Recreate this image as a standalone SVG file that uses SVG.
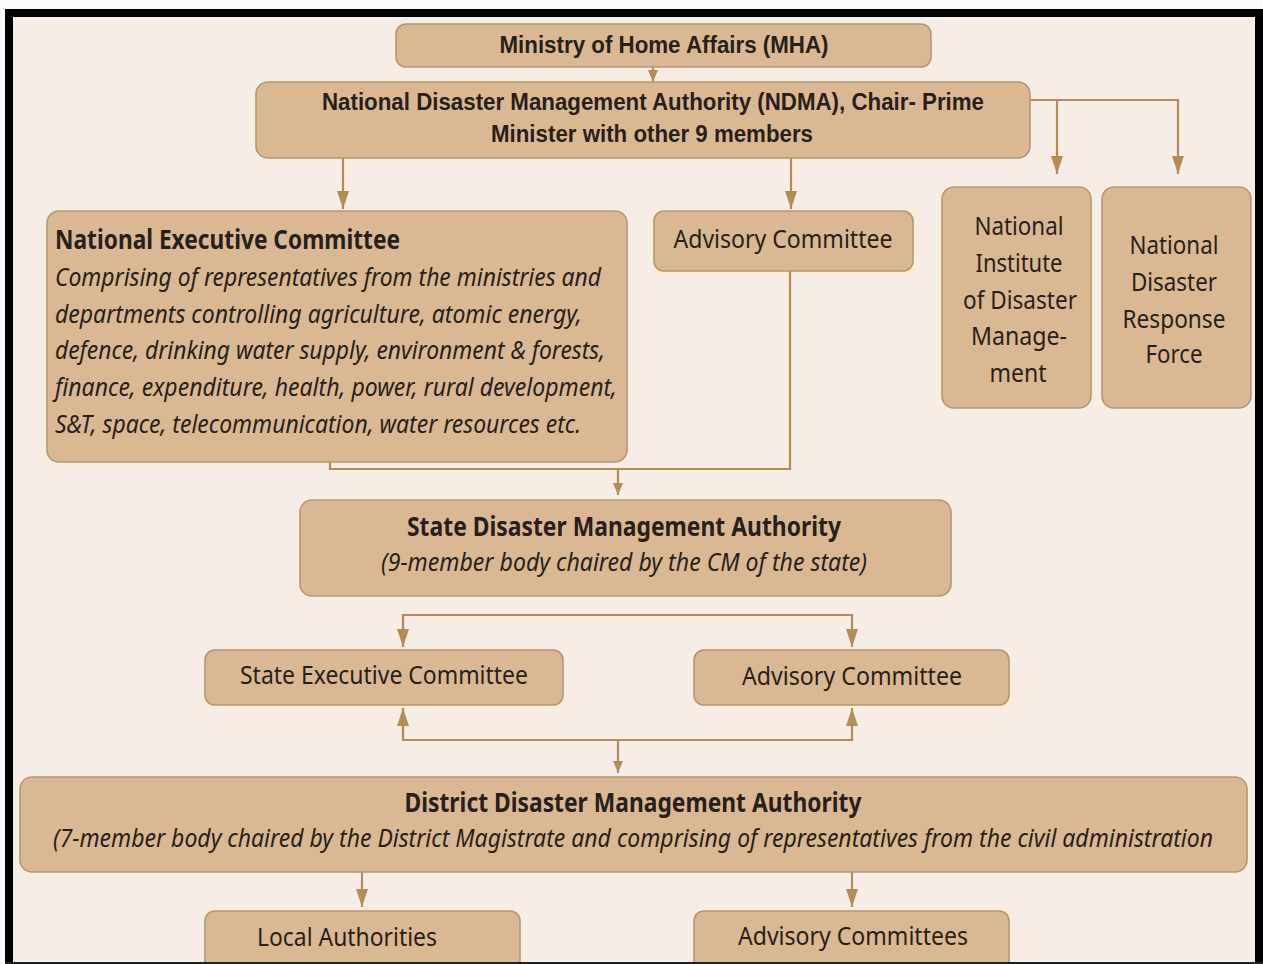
<svg xmlns="http://www.w3.org/2000/svg" width="1263" height="964" viewBox="0 0 1263 964">
<style>
.box{fill:#d9b893;stroke:#b8966c;stroke-width:1.6}
.ln{fill:none;stroke:#b38d55;stroke-width:2.2}
.t{font-family:"Noto Sans","Open Sans",sans-serif;fill:#2a1f18;font-size:26px}
.tb{font-family:"Noto Sans","Open Sans",sans-serif;fill:#2a1f18;font-size:26px;font-weight:bold}
.ti{font-family:"Noto Sans","Open Sans",sans-serif;fill:#2a1f18;font-size:26px;font-style:italic}
.ar{font-family:"Liberation Sans",Arial,sans-serif;fill:#2a1f18;font-size:23px;font-weight:bold}
.c{text-anchor:middle}
</style>
<defs>
<marker id="ah" viewBox="0 0 18 12" refX="18" refY="6" markerWidth="18" markerHeight="12" orient="auto" markerUnits="userSpaceOnUse">
<path d="M0,0 L18,6 L0,12 z" fill="#b38d55"/>
</marker>
<marker id="as" viewBox="0 0 12 10" refX="12" refY="5" markerWidth="12" markerHeight="10" orient="auto" markerUnits="userSpaceOnUse">
<path d="M0,0 L12,5 L0,10 z" fill="#b38d55"/>
</marker>
</defs>
<rect x="0" y="0" width="1263" height="964" fill="#fbfbfb"/>
<rect x="5" y="9" width="1258" height="955" fill="#000"/>
<rect x="13" y="17" width="1242" height="945" fill="#f6ede6"/>

<g id="connectors">
<line class="ln" x1="653" y1="67" x2="653" y2="82" marker-end="url(#as)"/>
<polyline class="ln" points="1030,100 1178,100 1178,174" marker-end="url(#ah)"/>
<line class="ln" x1="1057" y1="100" x2="1057" y2="174" marker-end="url(#ah)"/>
<line class="ln" x1="343" y1="158" x2="343" y2="209" marker-end="url(#ah)"/>
<line class="ln" x1="791" y1="158" x2="791" y2="209" marker-end="url(#ah)"/>
<polyline class="ln" points="330,462 330,469 790,469 790,271"/>
<line class="ln" x1="618" y1="469" x2="618" y2="495" marker-end="url(#as)"/>
<polyline class="ln" points="403,647 403,615 852,615 852,647" marker-end="url(#ah)"/>
<line class="ln" x1="403" y1="615" x2="403" y2="647" marker-end="url(#ah)"/>
<polyline class="ln" points="403,708 403,740 852,740 852,708" marker-end="url(#ah)"/>
<line class="ln" x1="403" y1="740" x2="403" y2="708" marker-end="url(#ah)"/>
<line class="ln" x1="618" y1="740" x2="618" y2="773" marker-end="url(#as)"/>
<line class="ln" x1="362" y1="872" x2="362" y2="907" marker-end="url(#ah)"/>
<line class="ln" x1="852" y1="872" x2="852" y2="907" marker-end="url(#ah)"/>
</g>

<g id="mha">
<rect class="box" x="396" y="24" width="535" height="43" rx="10"/>
<text class="ar c" x="664" y="53" textLength="329" lengthAdjust="spacingAndGlyphs">Ministry of Home Affairs (MHA)</text>
</g>
<g id="ndma">
<rect class="box" x="256" y="82" width="774" height="76" rx="12"/>
<text class="ar c" x="653" y="110" textLength="662" lengthAdjust="spacingAndGlyphs">National Disaster Management Authority (NDMA), Chair- Prime</text>
<text class="ar c" x="652" y="142" textLength="322" lengthAdjust="spacingAndGlyphs">Minister with other 9 members</text>
</g>
<g id="nec">
<rect class="box" x="47" y="211" width="580" height="251" rx="12"/>
<text class="tb" x="55" y="249" textLength="345" lengthAdjust="spacingAndGlyphs">National Executive Committee</text>
<text class="ti" x="55" y="286" textLength="546" lengthAdjust="spacingAndGlyphs">Comprising of representatives from the ministries and</text>
<text class="ti" x="55" y="323" textLength="527" lengthAdjust="spacingAndGlyphs">departments controlling agriculture, atomic energy,</text>
<text class="ti" x="55" y="359" textLength="550" lengthAdjust="spacingAndGlyphs">defence, drinking water supply, environment &amp; forests,</text>
<text class="ti" x="55" y="396" textLength="562" lengthAdjust="spacingAndGlyphs">finance, expenditure, health, power, rural development,</text>
<text class="ti" x="55" y="433" textLength="526" lengthAdjust="spacingAndGlyphs">S&amp;T, space, telecommunication, water resources etc.</text>
</g>
<g id="advisory-national">
<rect class="box" x="654" y="211" width="259" height="60" rx="10"/>
<text class="t c" x="783" y="248" textLength="219" lengthAdjust="spacingAndGlyphs">Advisory Committee</text>
</g>
<g id="nidm">
<rect class="box" x="942" y="187" width="149" height="221" rx="12"/>
<text class="t c" x="1019" y="235" textLength="89" lengthAdjust="spacingAndGlyphs">National</text>
<text class="t c" x="1019" y="272" textLength="87" lengthAdjust="spacingAndGlyphs">Institute</text>
<text class="t c" x="1020" y="309" textLength="114" lengthAdjust="spacingAndGlyphs">of Disaster</text>
<text class="t c" x="1019" y="345" textLength="96" lengthAdjust="spacingAndGlyphs">Manage-</text>
<text class="t c" x="1018" y="382" textLength="57" lengthAdjust="spacingAndGlyphs">ment</text>
</g>
<g id="ndrf">
<rect class="box" x="1102" y="187" width="149" height="221" rx="12"/>
<text class="t c" x="1174" y="254" textLength="89" lengthAdjust="spacingAndGlyphs">National</text>
<text class="t c" x="1174" y="291" textLength="86" lengthAdjust="spacingAndGlyphs">Disaster</text>
<text class="t c" x="1174" y="328" textLength="103" lengthAdjust="spacingAndGlyphs">Response</text>
<text class="t c" x="1174" y="363" textLength="57" lengthAdjust="spacingAndGlyphs">Force</text>
</g>
<g id="sdma">
<rect class="box" x="300" y="500" width="651" height="96" rx="12"/>
<text class="tb c" x="624" y="536" textLength="434" lengthAdjust="spacingAndGlyphs">State Disaster Management Authority</text>
<text class="ti c" x="624" y="571" textLength="486" lengthAdjust="spacingAndGlyphs">(9-member body chaired by the CM of the state)</text>
</g>
<g id="sec">
<rect class="box" x="205" y="650" width="358" height="55" rx="10"/>
<text class="t c" x="384" y="684" textLength="288" lengthAdjust="spacingAndGlyphs">State Executive Committee</text>
</g>
<g id="advisory-state">
<rect class="box" x="694" y="650" width="315" height="55" rx="10"/>
<text class="t c" x="852" y="685" textLength="220" lengthAdjust="spacingAndGlyphs">Advisory Committee</text>
</g>
<g id="ddma">
<rect class="box" x="20" y="777" width="1227" height="95" rx="12"/>
<text class="tb c" x="633" y="812" textLength="457" lengthAdjust="spacingAndGlyphs">District Disaster Management Authority</text>
<text class="ti c" x="633" y="847" font-size="23" textLength="1160" lengthAdjust="spacingAndGlyphs">(7-member body chaired by the District Magistrate and comprising of representatives from the civil administration</text>
</g>
<g id="local">
<rect class="box" x="205" y="911" width="315" height="70" rx="10"/>
<text class="t c" x="347" y="946" textLength="180" lengthAdjust="spacingAndGlyphs">Local Authorities</text>
</g>
<g id="advisory-district">
<rect class="box" x="694" y="911" width="315" height="70" rx="10"/>
<text class="t c" x="853" y="945" textLength="230" lengthAdjust="spacingAndGlyphs">Advisory Committees</text>
</g>
<rect x="5" y="962" width="1258" height="2" fill="#222"/>
</svg>
